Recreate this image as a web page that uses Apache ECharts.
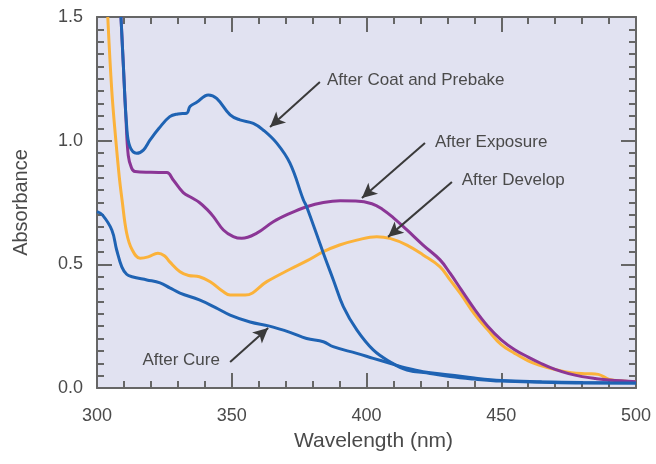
<!DOCTYPE html>
<html><head><meta charset="utf-8">
<script src="https://cdn.jsdelivr.net/npm/echarts@6/dist/echarts.min.js"></script>
<style>html,body{margin:0;padding:0;background:#fff}#c{width:656px;height:464px}</style>
</head><body><div id="c"></div>
<script>
// ---- data ----
const coatWl  = [308.9,309.8,311,312.2,314.7,317.2,319.7,323,327,330,333.3,334.5,337,341.3,344.4,349.4,353,358,361.7,366.7,371.6,376.6,377.8,384,387.7,391.4,396.4,402.5,408.7,415,423.6,431,440,450,465,480,500];
const coatAbs = [1.50,1.30,1.06,0.976,0.949,0.962,1.003,1.05,1.097,1.108,1.111,1.138,1.155,1.185,1.171,1.104,1.084,1.07,1.043,0.99,0.909,0.76,0.733,0.545,0.437,0.329,0.235,0.154,0.106,0.073,0.059,0.046,0.036,0.028,0.023,0.02,0.02];

const expoWl  = [308.9,309.8,310.7,311.6,312.8,314.1,320,325.9,328.3,332,335,338,341,343.2,346.9,350.6,353.7,359.3,365.4,371.6,377.8,384,390.2,396,402,406,410,415,421,427.3,431,435,440,445,450,455,460,465,470,475,480,485,490,500];
const expoAbs = [1.50,1.30,1.10,0.94,0.89,0.875,0.872,0.871,0.841,0.79,0.77,0.75,0.72,0.693,0.639,0.612,0.605,0.626,0.672,0.706,0.733,0.75,0.757,0.756,0.745,0.722,0.688,0.639,0.578,0.518,0.464,0.40,0.32,0.25,0.195,0.155,0.125,0.098,0.075,0.058,0.046,0.038,0.032,0.025];

const devWl   = [304,305.5,307,308.3,309.3,311,313,316,319,322.6,325,327,330.8,334,338,342,346.8,349.4,355,363,371.6,378,384,390,396.4,403.8,408.7,415,421,427.3,431,435,440,445,450,455,460,464,470,476,482,486,490,495,500];
const devAbs  = [1.50,1.20,1.00,0.85,0.76,0.627,0.56,0.525,0.53,0.545,0.535,0.51,0.47,0.455,0.45,0.43,0.39,0.376,0.376,0.43,0.48,0.515,0.551,0.578,0.598,0.612,0.605,0.578,0.538,0.49,0.437,0.38,0.30,0.235,0.175,0.14,0.11,0.093,0.075,0.062,0.058,0.055,0.035,0.028,0.025];

const cureWl  = [300,302,305.5,307.3,309.2,311,313,318.5,323.4,327,330.8,338,344,349.4,356.8,364,371.6,377.8,384,387.6,396.4,402.5,408.7,415,421,431,440,450,465,480,500];
const cureAbs = [0.713,0.70,0.639,0.558,0.49,0.46,0.45,0.437,0.425,0.405,0.384,0.356,0.325,0.295,0.267,0.25,0.225,0.20,0.187,0.167,0.14,0.12,0.10,0.08,0.066,0.053,0.04,0.03,0.025,0.022,0.02];

const xTicks = [300,350,400,450,500];
const yTicks = [0.0,0.5,1.0,1.5];

// annotations: [label, text anchor (wl,abs), align, arrow start, arrow end]
const notes = [
  ['After Coat and Prebake', [385.3,1.245], 'left',  [382.7,1.237], [364.2,1.055]],
  ['After Exposure',         [425.4,0.995], 'left',  [421.7,0.991], [398.3,0.768]],
  ['After Develop',          [435.3,0.841], 'left',  [431.7,0.833], [408.0,0.611]],
  ['After Cure',             [345.6,0.113], 'right', [349.4,0.105], [363.5,0.243]]
];

// ---- chart ----
const FONT = "'Liberation Sans', Arial, Helvetica, sans-serif";
const TXT = '#4a4a4a';
const AX = '#666666';
const zip = (a,b) => a.map((v,i)=>[v,b[i]]);

const chart = echarts.init(document.getElementById('c'), null, {renderer:'canvas'});

function axisCommon(extra){
  return Object.assign({
    axisLine:{show:true,onZero:false,lineStyle:{color:AX,width:2}},
    axisTick:{show:true,inside:true,length:15,lineStyle:{color:AX,width:2}},
    splitLine:{show:false}
  }, extra);
}

const lineSeries = (name, data, color) => ({
  name, type:'line', data, showSymbol:false, symbol:'none',
  smooth:0.4,
  clip:true, lineStyle:{color, width:3}, z:3
});

const option = {
  animation:false,
  backgroundColor:'#ffffff',
  grid:{left:97,right:20,top:17,bottom:76,show:true,backgroundColor:'#e1e2f1',borderWidth:0},
  xAxis:[
    axisCommon({type:'value',min:300,max:500,interval:50,position:'bottom',
      minorTick:{show:true,splitNumber:5,length:7,lineStyle:{color:AX,width:2}},
      axisLabel:{color:TXT,fontSize:18,fontFamily:FONT,margin:19,
        formatter:v=>xTicks.includes(v)?String(v):''},
      name:'Wavelength (nm)',nameLocation:'middle',nameGap:43,
      nameTextStyle:{color:TXT,fontSize:21,fontFamily:FONT,padding:[0,0,0,14]}}),
    axisCommon({type:'value',min:300,max:500,interval:50,position:'top',
      minorTick:{show:true,splitNumber:5,length:7,lineStyle:{color:AX,width:2}},
      axisLabel:{show:false}})
  ],
  yAxis:[
    axisCommon({type:'value',min:0,max:1.5,interval:0.5,position:'left',
      minorTick:{show:true,splitNumber:10,length:7,lineStyle:{color:AX,width:2}},
      axisLabel:{color:TXT,fontSize:18,fontFamily:FONT,margin:14,
        formatter:v=>{const t=yTicks.find(k=>Math.abs(k-v)<1e-6);return t===undefined?'':t.toFixed(1);}},
      name:'Absorbance',nameLocation:'middle',nameGap:66,
      nameTextStyle:{color:TXT,fontSize:20,fontFamily:FONT}}),
    axisCommon({type:'value',min:0,max:1.5,interval:0.5,position:'right',
      minorTick:{show:true,splitNumber:10,length:7,lineStyle:{color:AX,width:2}},
      axisLabel:{show:false}})
  ],
  series:[
    lineSeries('After Cure', zip(cureWl,cureAbs), '#1f63b3'),
    lineSeries('After Develop', zip(devWl,devAbs), '#fbb23a'),
    lineSeries('After Exposure', zip(expoWl,expoAbs), '#8b3696'),
    lineSeries('After Coat and Prebake', zip(coatWl,coatAbs), '#1f63b3'),
    {
      type:'line', data:[], z:5,
      markLine:{
        silent:true, animation:false,
        symbol:['none','arrow'], symbolSize:[11,15],
        label:{show:false},
        lineStyle:{color:'#3a3a3a',width:2,type:'solid'},
        data: notes.map(n=>[{coord:n[3]},{coord:n[4]}])
      }
    }
  ]
};
chart.setOption(option);

const g = notes.map(n=>{
  const p = chart.convertToPixel({gridIndex:0}, n[1]);
  return {type:'text', x:p[0], y:p[1], z:10,
    style:{text:n[0], fill:TXT, font:'17px '+FONT, align:n[2], verticalAlign:'middle'}};
});
chart.setOption({graphic:g});
</script>
</body></html>
